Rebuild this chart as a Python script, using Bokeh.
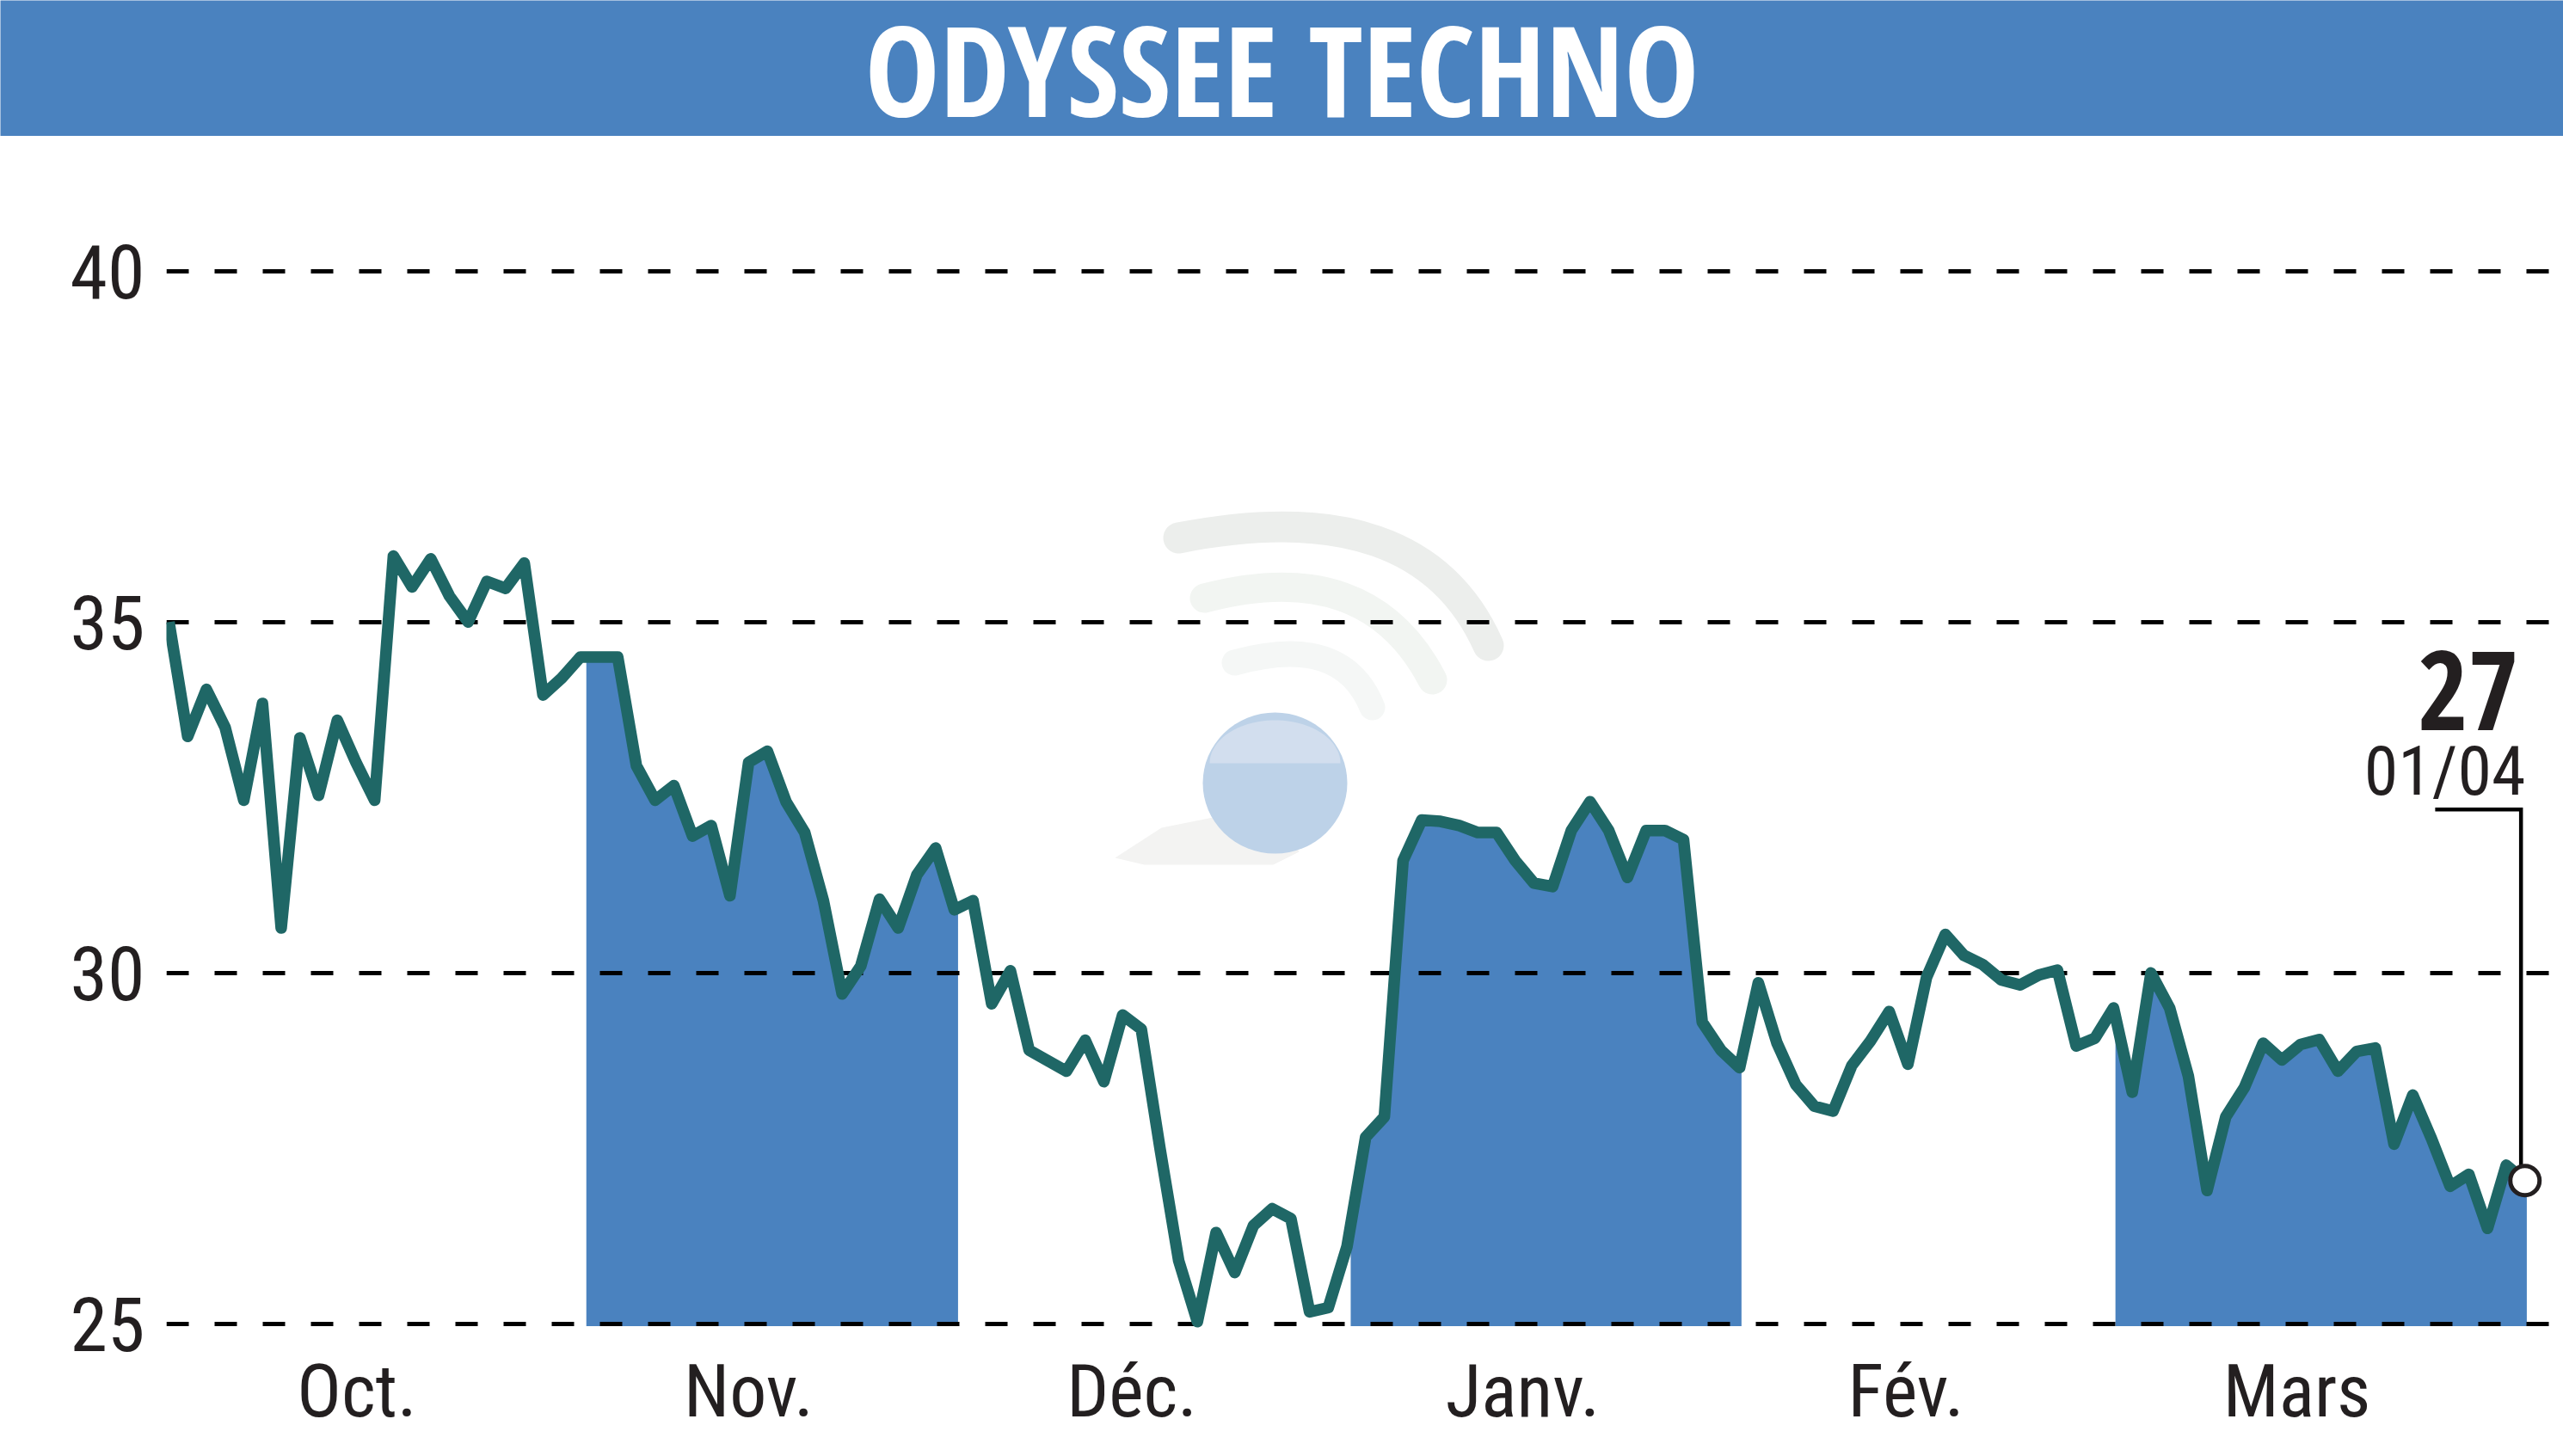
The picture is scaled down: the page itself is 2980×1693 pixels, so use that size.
import numpy as np
from bokeh.plotting import figure
from bokeh.layouts import column
from bokeh.models import Range1d, FixedTicker
from bokeh.core.properties import value
from bokeh.embed import file_html
from bokeh.resources import INLINE

title_text = "ODYSSEE TECHNO"
y_ticks = [25, 30, 35, 40]
month_labels = ["Oct.", "Nov.", "Déc.", "Janv.", "Fév.", "Mars"]
month_centers = [10.05, 31.0, 51.5, 72.4, 92.9, 113.8]
shaded_ranges = [(22.32, 42.2), (63.2, 84.1), (104.1, 126.1)]
last_value_label = "27"
last_date_label = "01/04"

prices = [
    35.0, 33.37, 34.04, 33.5, 32.46, 33.84, 30.64, 33.35, 32.53, 33.6,
    33.0, 32.46, 35.94, 35.5, 35.9, 35.37, 35.0, 35.58, 35.48, 35.84,
    33.96, 34.2, 34.5, 34.5, 34.5, 32.95, 32.46, 32.67, 31.95, 32.1,
    31.1, 33.0, 33.16, 32.44, 32.0, 31.03, 29.7, 30.1, 31.05, 30.64,
    31.4, 31.78, 30.9, 31.03, 29.56, 30.03, 28.9, 28.75, 28.6, 29.04,
    28.45, 29.4, 29.2, 27.5, 25.9, 25.03, 26.3, 25.73, 26.4, 26.64,
    26.5, 25.17, 25.23, 26.1, 27.66, 27.95, 31.6, 32.18, 32.16, 32.1,
    32.0, 32.0, 31.6, 31.28, 31.23, 32.03, 32.44, 32.03, 31.36, 32.03,
    32.03, 31.9, 29.3, 28.9, 28.65, 29.86, 29.0, 28.41, 28.1, 28.03,
    28.68, 29.03, 29.45, 28.7, 29.94, 30.55, 30.25, 30.12, 29.9, 29.83,
    29.97, 30.04, 28.96, 29.07, 29.5, 28.3, 30.0, 29.5, 28.53, 26.9,
    27.95, 28.37, 29.0, 28.76, 28.98, 29.05, 28.6, 28.88, 28.93, 27.56,
    28.26, 27.64, 26.96, 27.13, 26.36, 27.26, 27.04,
]
days = list(range(len(prices)))

BLUE = "#4A82BF"
TEAL = "#1F6766"
INK = "#231F20"
FONT = "Roboto Condensed"
FONT_BOLD = "Open Sans Condensed"

# window geometry: the column sits at the page's corner
W = 2980
HEADER_H = 158
MAIN_H = 1693 - HEADER_H
FRAME_L, FRAME_T, FRAME_B = 193, 158, 1560
PX_PER_DAY = 21.74
X0_PX = 196.0
PX_PER_UNIT = 81.6
Y25_PX = 1538.8


def dx(px):
    return (px - X0_PX) / PX_PER_DAY


def dy(px):
    return 25 + (Y25_PX - px) / PX_PER_UNIT


header = figure(width=W, height=HEADER_H, x_range=Range1d(0, 1), y_range=Range1d(0, 1),
                output_backend="svg", toolbar_location=None, min_border=0, frame_align=False,
                background_fill_color=BLUE, border_fill_color=BLUE, outline_line_color=None)
header.axis.visible = False
header.grid.visible = False
header.text(x=[1490 / W], y=[0.5], text=[title_text], text_color="white",
            text_font=value(FONT_BOLD), text_font_size="146px", text_align="center",
            text_baseline="middle")

p = figure(width=W, height=MAIN_H,
           x_range=Range1d(dx(FRAME_L), dx(W)), y_range=Range1d(dy(FRAME_B), dy(FRAME_T)),
           output_backend="svg", toolbar_location=None, outline_line_color=None, frame_align=False,
           min_border_left=FRAME_L, min_border_right=0, min_border_top=0,
           min_border_bottom=1693 - FRAME_B, background_fill_color="white")

# watermark
for (x0, y0, cx, cy, x1, y1, w, col) in [
    (1370, 625, 1650, 570, 1730, 750, 36, "#ECEEEC"),
    (1400, 695, 1590, 645, 1665, 790, 34, "#F2F5F2"),
    (1435, 770, 1560, 735, 1595, 822, 30, "#F5F7F6"),
]:
    p.quadratic(x0=[dx(x0)], y0=[dy(y0)], x1=[dx(x1)], y1=[dy(y1)], cx=[dx(cx)], cy=[dy(cy)],
                line_color=col, line_width=w, line_cap="round", level="underlay")
p.patch([dx(v) for v in (1296, 1350, 1410, 1490, 1510, 1480, 1330)],
        [dy(v) for v in (997, 962, 950, 950, 990, 1005, 1005)],
        fill_color="#F3F3F2", line_color=None, level="underlay")
p.ellipse(x=[dx(1482)], y=[dy(910)], width=168 / PX_PER_DAY, height=164 / PX_PER_UNIT,
          fill_color="#BDD2E8", line_color=None, level="underlay")
angles = np.linspace(0, np.pi, 40)
p.patch(dx(1482) + (76 / PX_PER_DAY) * np.cos(angles),
        dy(887) + (50 / PX_PER_UNIT) * np.sin(angles),
        fill_color="#D2DEEE", line_color=None, level="underlay")

# shaded months
for a, b in shaded_ranges:
    inner = [d for d in days if a < d < b]
    xs = [a] + inner + [b]
    ys = list(np.interp(xs, days, prices))
    p.varea(x=xs, y1=ys, y2=dy(1541.5), fill_color=BLUE, level="underlay")

p.line(days, prices, line_color=TEAL, line_width=13.5, line_join="round", line_cap="butt")

# last value callout
last_x, last_y = days[-1], prices[-1]
LEADER_TOP = 32.33
p.line([last_x - 4.8, last_x - 0.21, last_x - 0.21], [LEADER_TOP, LEADER_TOP, last_y],
       line_color="black", line_width=4.5, line_join="miter")
p.scatter([last_x], [last_y], size=34, fill_color="white", line_color=INK, line_width=5)
p.text([dx(2928)], [dy(802)], text=[last_value_label], text_color=INK, text_font=value(FONT_BOLD),
       text_font_size="127px", text_align="right", text_baseline="alphabetic")
p.text([dx(2936)], [dy(896)], text=[last_date_label], text_color=INK, text_font=value(FONT),
       text_font_size="80px", text_align="right", text_baseline="alphabetic")

# axes
p.xgrid.visible = False
g = p.ygrid[0]
g.ticker = FixedTicker(ticks=y_ticks)
g.grid_line_color = "black"
g.grid_line_width = 5
g.grid_line_dash = [26, 30]
g.level = "underlay"

ax = p.yaxis[0]
ax.ticker = FixedTicker(ticks=y_ticks)
ax.axis_line_color = None
ax.major_tick_line_color = None
ax.minor_tick_line_color = None
ax.major_label_text_font = FONT
ax.major_label_text_font_size = "88px"
ax.major_label_text_color = INK
ax.major_label_standoff = 19

xa = p.xaxis[0]
xa.ticker = FixedTicker(ticks=month_centers)
xa.major_label_overrides = dict(zip(month_centers, month_labels))
xa.axis_line_color = None
xa.major_tick_line_color = None
xa.minor_tick_line_color = None
xa.major_label_text_font = FONT
xa.major_label_text_font_size = "86px"
xa.major_label_text_color = INK
xa.major_label_standoff = 0

layout = column(header, p, spacing=0)
open("out.html", "w").write(file_html(layout, INLINE))
